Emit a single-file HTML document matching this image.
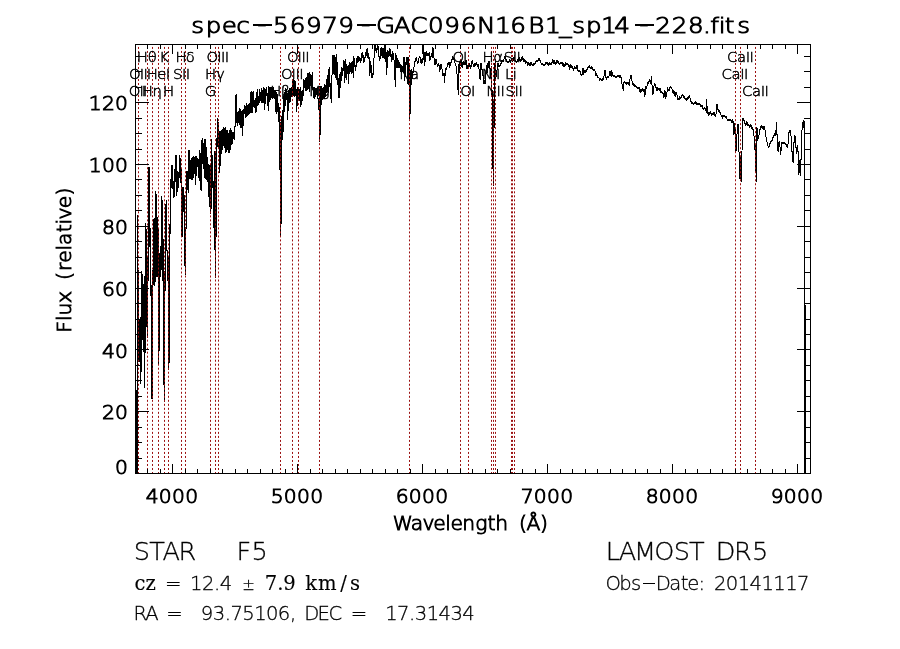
<!DOCTYPE html>
<html lang="en"><head><meta charset="utf-8"><title>spec-56979-GAC096N16B1_sp14-228.fits</title>
<style>html,body{margin:0;padding:0;background:#fff}svg{display:block}text{font-variant-ligatures:none;font-family:'DejaVu Sans Light','DejaVu Sans','Liberation Sans',sans-serif;fill:#000;stroke:#000;stroke-width:.3px}.s{font-family:'DejaVu Serif','Liberation Serif',serif;stroke-width:.12px}.pm{font-size:15px}.k{font-family:'DejaVu Sans Light','DejaVu Sans','Liberation Sans',sans-serif;stroke-width:1px}.m{stroke-width:.5px}</style></head><body>
<svg width="900" height="649" viewBox="0 0 900 649">
<rect width="900" height="649" fill="#fff"/>
<polyline fill="none" stroke="#000" stroke-width="1" stroke-linejoin="miter" shape-rendering="crispEdges" points="136.5,390.0 136.5,473.0 137.5,473.0 137.5,215.0 138.5,323.0 138.5,361.0 139.5,361.0 139.5,323.0 140.5,317.0 140.5,384.0 141.5,361.0 141.5,271.0 142.5,276.0 142.5,327.0 143.5,352.0 143.5,292.0 144.5,276.0 144.5,388.0 145.5,322.0 145.5,223.0 146.5,234.5 146.5,316.0 147.5,337.8 147.5,256.5 148.5,281.0 148.5,167.0 149.5,167.0 149.5,247.0 150.5,228.0 150.5,295.7 151.5,285.0 151.5,398.0 152.5,398.0 152.5,270.0 153.5,284.5 153.5,220.0 154.5,218.5 154.5,285.7 155.5,279.0 155.5,191.0 156.5,196.0 156.5,276.0 157.5,276.0 157.5,217.0 158.5,241.0 158.5,365.0 159.5,338.5 159.5,261.0 160.5,246.0 160.5,277.0 161.5,264.0 161.5,196.0 162.5,204.0 162.5,281.0 163.5,239.0 163.5,366.5 164.5,402.0 164.5,271.5 165.5,290.7 165.5,209.0 166.5,200.0 166.5,250.0 167.5,250.0 167.5,281.0 168.5,257.0 168.5,370.0 169.5,356.0 169.5,224.0 170.5,233.7 170.5,179.0 171.5,187.7 171.5,165.0 172.5,165.0 172.5,189.0 173.5,181.0 173.5,197.7 174.5,195.7 174.5,169.0 175.5,182.0 175.5,155.2 176.5,155.2 176.5,195.7 177.5,187.7 177.5,172.0 178.5,173.3 178.5,187.7 179.5,169.3 179.5,155.2 180.5,161.0 180.5,183.0 181.5,168.7 181.5,236.3 182.5,236.3 182.5,187.0 183.5,187.0 183.5,211.7 184.5,195.0 184.5,256.7 185.5,275.0 185.5,228.0 186.5,228.7 186.5,171.0 187.5,171.0 187.5,187.7 188.5,192.7 188.5,150.2 189.5,150.2 189.5,178.0 190.5,178.7 190.5,161.0 191.5,159.3 191.5,179.3 192.5,179.7 192.5,158.7 193.5,156.0 193.5,178.0 194.5,170.0 194.5,159.0 195.5,156.0 195.5,184.7 196.5,166.7 196.5,156.0 197.5,160.7 197.5,167.3 198.5,159.3 198.5,175.3 199.5,181.0 199.5,150.2 200.5,156.0 200.5,189.7 201.5,190.7 201.5,142.0 202.5,138.0 202.5,160.0 203.5,168.7 203.5,146.7 204.5,139.0 204.5,176.7 205.5,178.0 205.5,139.0 206.5,154.0 206.5,179.3 207.5,181.0 207.5,157.3 208.5,170.0 208.5,186.7 209.5,206.7 209.5,166.0 210.5,164.7 210.5,214.0 211.5,204.7 211.5,139.0 212.5,170.0 212.5,187.7 213.5,181.0 213.5,205.7 214.5,250.0 214.5,151.3 215.5,152.0 215.5,278.0 216.5,197.7 216.5,138.0 217.5,146.7 217.5,118.5 218.5,125.0 218.5,149.3 219.5,131.0 219.5,172.7 220.5,159.7 220.5,132.0 221.5,131.0 221.5,153.7 222.5,146.0 222.5,130.0 223.5,127.5 223.5,145.5 224.5,147.2 224.5,129.4 225.5,127.4 225.5,153.3 226.5,150.7 226.5,130.3 227.5,130.6 227.5,146.2 228.5,152.8 228.5,135.5 229.5,130.1 229.5,153.3 230.5,147.2 230.5,127.9 231.5,132.0 231.5,144.1 232.5,142.7 232.5,132.1 233.5,132.2 233.5,137.8 234.5,138.9 234.5,127.0 235.5,126.7 235.5,96.3 236.5,94.2 236.5,120.7 237.5,126.0 237.5,113.6 238.5,110.7 238.5,121.5 239.5,124.7 239.5,108.9 240.5,109.6 240.5,127.4 241.5,127.5 241.5,113.3 242.5,109.9 242.5,136.2 243.5,117.1 243.5,109.2 244.5,113.5 244.5,104.8 245.5,106.9 245.5,117.7 246.5,115.4 246.5,103.5 247.5,107.1 247.5,115.6 248.5,114.3 248.5,105.2 249.5,103.9 249.5,113.3 250.5,112.7 250.5,94.1 251.5,90.7 251.5,112.5 252.5,112.1 252.5,92.2 253.5,91.7 253.5,105.9 254.5,107.4 254.5,101.6 255.5,98.0 255.5,113.4 256.5,111.2 256.5,95.4 257.5,89.1 257.5,105.0 258.5,104.5 258.5,95.7 259.5,102.7 259.5,88.7 260.5,94.7 260.5,99.0 261.5,103.3 261.5,88.4 262.5,92.1 262.5,102.3 263.5,102.0 263.5,86.6 264.5,89.8 264.5,109.8 265.5,99.5 265.5,90.5 266.5,87.0 266.5,95.7 267.5,92.9 267.5,100.3 268.5,111.3 268.5,86.9 269.5,87.6 269.5,100.7 270.5,99.3 270.5,87.2 271.5,88.1 271.5,95.5 272.5,99.4 272.5,89.0 273.5,87.8 273.5,97.8 274.5,98.6 274.5,90.1 275.5,90.6 275.5,111.5 276.5,113.0 276.5,92.0 277.5,95.9 277.5,112.0 278.5,102.8 278.5,122.0 279.5,107.2 279.5,170.0 280.5,122.0 280.5,236.0 281.5,212.0 281.5,122.0 282.5,110.0 282.5,140.0 283.5,125.0 283.5,100.0 284.5,92.0 284.5,112.0 285.5,100.0 285.5,88.9 286.5,89.5 286.5,99.5 287.5,93.2 287.5,119.9 288.5,101.8 288.5,91.7 289.5,87.8 289.5,102.0 290.5,100.7 290.5,89.7 291.5,86.9 291.5,96.1 292.5,95.1 292.5,81.7 293.5,80.2 293.5,95.1 294.5,96.0 294.5,79.8 295.5,82.6 295.5,95.8 296.5,89.0 296.5,112.1 297.5,101.3 297.5,87.7 298.5,87.5 298.5,100.8 299.5,100.6 299.5,90.7 300.5,87.5 300.5,106.7 301.5,102.4 301.5,92.6 302.5,89.6 302.5,101.4 303.5,91.4 303.5,79.7 304.5,80.3 304.5,85.1 305.5,90.6 305.5,78.9 306.5,77.7 306.5,90.0 307.5,89.5 307.5,74.0 308.5,73.5 308.5,85.4 309.5,92.0 309.5,73.3 310.5,74.9 310.5,84.9 311.5,87.7 311.5,78.2 312.5,72.5 312.5,89.7 313.5,87.6 313.5,97.0 314.5,97.9 314.5,87.5 315.5,89.4 315.5,96.6 316.5,93.2 316.5,88.4 317.5,87.8 317.5,97.1 318.5,100.0 318.5,110.0 319.5,86.0 319.5,142.0 320.5,129.0 320.5,86.0 321.5,86.0 321.5,105.0 322.5,96.2 322.5,90.3 323.5,86.6 323.5,97.6 324.5,98.4 324.5,83.7 325.5,86.9 325.5,97.1 326.5,89.4 326.5,82.9 327.5,75.1 327.5,91.6 328.5,92.2 328.5,70.2 329.5,67.6 329.5,86.5 330.5,82.6 330.5,95.3 331.5,102.8 331.5,83.9 332.5,66.1 332.5,55.6 333.5,55.8 333.5,71.8 334.5,75.2 334.5,55.4 335.5,58.1 335.5,76.6 336.5,80.1 336.5,53.7 337.5,70.1 337.5,84.8 338.5,77.7 338.5,97.3 339.5,97.5 339.5,76.0 340.5,72.1 340.5,87.6 341.5,75.1 341.5,67.5 342.5,68.9 342.5,76.2 343.5,66.1 343.5,59.6 344.5,63.2 344.5,82.8 345.5,74.3 345.5,59.0 346.5,68.6 346.5,80.4 347.5,68.9 347.5,67.3 348.5,64.8 348.5,83.5 349.5,65.7 349.5,61.6 350.5,64.7 350.5,71.4 351.5,73.0 351.5,62.5 352.5,61.9 352.5,67.7 353.5,78.1 353.5,57.2 354.5,58.6 354.5,67.3 355.5,65.1 355.5,71.3 356.5,63.7 356.5,58.6 357.5,56.9 357.5,63.3 358.5,60.7 358.5,56.9 359.5,57.4 359.5,60.0 360.5,59.0 360.5,63.1 361.5,59.5 361.5,54.0 362.5,51.8 362.5,57.9 363.5,54.6 363.5,62.6 364.5,61.8 364.5,57.9 365.5,57.6 365.5,53.2 366.5,54.8 366.5,49.3 367.5,48.8 367.5,57.4 368.5,58.2 368.5,52.8 369.5,61.0 369.5,75.6 370.5,70.3 370.5,61.5 371.5,69.1 371.5,77.6 372.5,77.6 372.5,72.7 373.5,74.7 373.5,64.6 374.5,51.8 374.5,45.5 375.5,45.5 375.5,50.6 376.5,52.0 376.5,48.7 377.5,49.4 377.5,45.5 378.5,46.3 378.5,56.0 379.5,56.4 379.5,61.3 380.5,57.1 380.5,49.0 381.5,47.0 381.5,54.7 382.5,57.8 382.5,48.1 383.5,48.1 383.5,56.7 384.5,59.0 384.5,45.5 385.5,49.3 385.5,62.2 386.5,52.0 386.5,75.0 387.5,61.8 387.5,50.8 388.5,52.3 388.5,57.4 389.5,54.1 389.5,47.6 390.5,51.2 390.5,56.8 391.5,54.2 391.5,62.3 392.5,56.9 392.5,52.0 393.5,53.8 393.5,57.8 394.5,61.8 394.5,72.6 395.5,87.4 395.5,54.2 396.5,55.7 396.5,67.4 397.5,67.4 397.5,57.7 398.5,63.1 398.5,67.6 399.5,67.0 399.5,62.5 400.5,66.5 400.5,71.6 401.5,72.5 401.5,64.8 402.5,67.1 402.5,71.2 403.5,72.4 403.5,57.5 404.5,57.5 404.5,80.7 405.5,72.8 405.5,62.6 406.5,64.1 406.5,57.3 407.5,57.2 407.5,82.0 408.5,85.0 408.5,57.1 409.5,71.0 409.5,119.0 410.5,109.0 410.5,71.0 411.5,70.0 411.5,85.0 412.5,73.8 412.5,71.4 413.5,72.0 413.5,68.1 414.5,66.4 414.5,62.0 415.5,60.8 415.5,58.3 416.5,57.5 416.5,60.4 417.5,62.1 417.5,63.1 418.5,62.6 418.5,58.4 419.5,57.9 419.5,56.3 420.5,58.5 420.5,62.2 421.5,62.9 421.5,59.1 422.5,58.8 422.5,63.4 423.5,56.6 423.5,45.5 424.5,57.9 424.5,66.4 425.5,57.9 425.5,52.7 426.5,51.9 426.5,55.1 427.5,55.6 427.5,53.2 428.5,53.3 428.5,55.3 429.5,53.5 429.5,60.7 430.5,58.6 430.5,56.3 431.5,56.6 431.5,52.7 432.5,57.7 432.5,47.0 433.5,49.7 433.5,54.2 434.5,61.1 434.5,64.9 435.5,65.0 435.5,59.5 436.5,59.2 436.5,61.8 437.5,65.4 437.5,66.4 438.5,65.4 438.5,63.4 439.5,67.5 439.5,71.9 440.5,68.3 440.5,64.2 441.5,64.4 441.5,67.6 442.5,70.0 442.5,75.6 443.5,75.7 443.5,73.9 444.5,73.5 444.5,82.8 445.5,70.2 445.5,69.0 446.5,68.1 446.5,70.1 447.5,64.8 447.5,63.8 448.5,64.3 448.5,62.8 449.5,62.9 449.5,66.8 450.5,65.7 450.5,62.3 451.5,62.1 451.5,60.1 452.5,59.3 452.5,56.8 453.5,57.9 453.5,59.0 454.5,58.4 454.5,62.5 455.5,63.2 455.5,64.6 456.5,67.1 456.5,68.1 457.5,78.8 457.5,84.4 458.5,95.2 458.5,66.5 459.5,61.8 459.5,72.7 460.5,60.4 460.5,59.4 461.5,60.8 461.5,66.3 462.5,67.3 462.5,63.3 463.5,62.0 463.5,64.7 464.5,64.7 464.5,63.0 465.5,64.3 465.5,60.4 466.5,60.6 466.5,68.4 467.5,68.6 467.5,65.4 468.5,66.0 468.5,63.1 469.5,63.3 469.5,66.5 470.5,66.0 470.5,68.8 471.5,65.6 471.5,61.8 472.5,61.1 472.5,63.8 473.5,64.7 473.5,66.6 474.5,66.1 474.5,63.7 475.5,63.9 475.5,65.3 476.5,64.7 476.5,62.5 477.5,65.1 477.5,66.6 478.5,67.9 478.5,64.4 479.5,73.4 479.5,78.1 480.5,78.9 480.5,63.3 481.5,63.3 481.5,69.5 482.5,69.8 482.5,72.6 483.5,78.2 483.5,83.2 484.5,83.5 484.5,80.1 485.5,84.3 485.5,72.5 486.5,73.1 486.5,67.7 487.5,62.9 487.5,72.6 488.5,63.6 488.5,61.5 489.5,61.3 489.5,67.6 490.5,69.1 490.5,78.0 491.5,66.0 491.5,96.0 492.5,90.0 492.5,150.0 493.5,186.0 493.5,100.0 494.5,128.0 494.5,66.0 495.5,60.0 495.5,80.0 497.5,66.8 497.5,64.0 498.5,63.4 498.5,66.7 499.5,66.3 499.5,65.1 500.5,65.3 500.5,64.0 501.5,62.7 501.5,60.5 502.5,60.7 502.5,61.7 503.5,60.9 503.5,59.8 504.5,58.2 504.5,56.7 505.5,56.9 505.5,59.3 506.5,59.2 506.5,61.3 507.5,61.4 507.5,62.4 508.5,62.3 508.5,61.3 509.5,61.6 509.5,60.0 510.5,60.6 510.5,61.7 511.5,60.2 511.5,58.3 512.5,58.2 512.5,61.4 513.5,60.9 513.5,58.1 514.5,57.2 514.5,60.0 515.5,60.4 515.5,61.9 516.5,62.3 516.5,61.3 517.5,61.0 517.5,59.7 518.5,58.7 518.5,60.8 519.5,60.1 519.5,57.8 520.5,59.5 520.5,61.7 521.5,60.4 521.5,57.8 522.5,57.1 522.5,59.2 523.5,59.0 523.5,61.5 524.5,61.7 524.5,60.1 525.5,60.8 525.5,63.3 526.5,62.7 526.5,61.6 527.5,62.9 527.5,65.4 528.5,64.7 528.5,61.8 529.5,64.5 529.5,65.8 530.5,65.9 530.5,63.0 531.5,62.7 531.5,64.9 532.5,64.4 532.5,65.5 533.5,65.5 533.5,64.0 534.5,63.5 534.5,65.0 535.5,63.1 535.5,61.4 536.5,61.9 536.5,60.9 537.5,60.5 537.5,61.9 538.5,59.4 538.5,58.4 539.5,59.1 539.5,60.2 540.5,60.3 540.5,62.2 541.5,63.8 541.5,64.9 542.5,64.7 542.5,63.7 543.5,64.4 543.5,65.4 544.5,65.5 544.5,64.5 545.5,64.7 545.5,62.8 546.5,62.7 546.5,63.7 547.5,62.8 547.5,64.7 548.5,65.4 548.5,63.9 549.5,64.4 549.5,63.0 550.5,63.2 550.5,64.9 551.5,64.6 551.5,63.4 552.5,61.6 552.5,59.4 553.5,61.5 553.5,63.3 554.5,63.0 554.5,61.4 555.5,63.0 555.5,64.0 556.5,62.8 556.5,61.1 557.5,61.9 557.5,60.0 558.5,62.5 558.5,63.7 559.5,63.6 559.5,64.6 560.5,63.5 560.5,62.1 561.5,62.2 561.5,63.2 562.5,62.6 562.5,64.8 563.5,66.1 563.5,63.4 564.5,64.5 564.5,67.0 565.5,64.5 565.5,62.8 566.5,63.7 566.5,64.9 567.5,64.6 567.5,63.1 568.5,65.7 568.5,67.0 569.5,64.9 569.5,69.9 570.5,66.2 570.5,64.9 571.5,66.1 571.5,67.5 572.5,66.7 572.5,68.5 573.5,68.3 573.5,69.7 574.5,68.3 574.5,66.7 575.5,67.6 575.5,68.8 576.5,68.1 576.5,65.5 577.5,65.6 577.5,70.7 578.5,70.5 578.5,71.8 579.5,71.7 579.5,69.7 580.5,72.5 580.5,74.8 581.5,75.0 581.5,76.0 582.5,73.1 582.5,68.9 583.5,68.7 583.5,74.1 584.5,72.5 584.5,70.7 585.5,70.9 585.5,72.1 586.5,71.3 586.5,70.3 587.5,68.8 587.5,67.3 588.5,67.4 588.5,66.4 589.5,66.0 589.5,67.0 590.5,67.6 590.5,68.7 591.5,68.7 591.5,67.0 592.5,67.3 592.5,69.4 593.5,69.5 593.5,70.5 594.5,70.1 594.5,69.1 595.5,72.7 595.5,75.0 596.5,75.2 596.5,73.0 597.5,76.9 597.5,77.9 598.5,77.8 598.5,76.8 599.5,79.2 599.5,80.2 600.5,79.9 600.5,78.9 601.5,79.8 601.5,80.8 602.5,80.0 602.5,79.0 603.5,78.9 603.5,79.9 604.5,72.0 604.5,70.3 605.5,70.3 605.5,76.7 606.5,78.0 606.5,79.0 607.5,77.6 607.5,76.4 608.5,77.0 608.5,78.0 609.5,74.2 609.5,71.9 610.5,71.3 610.5,74.5 611.5,77.3 611.5,70.3 612.5,74.2 612.5,75.2 613.5,75.9 613.5,76.9 614.5,76.8 614.5,75.8 615.5,76.1 615.5,77.6 616.5,77.4 616.5,76.1 617.5,76.5 617.5,75.4 618.5,75.6 618.5,76.6 619.5,77.1 619.5,75.9 620.5,75.8 620.5,77.0 621.5,77.9 621.5,82.8 622.5,84.9 622.5,87.3 623.5,91.3 623.5,82.3 624.5,82.8 624.5,81.8 625.5,82.3 625.5,83.7 626.5,84.5 626.5,82.9 627.5,83.2 627.5,82.1 628.5,82.3 628.5,84.2 629.5,85.0 629.5,81.2 630.5,77.4 630.5,75.6 631.5,75.5 631.5,78.4 632.5,83.5 632.5,84.6 633.5,83.6 633.5,85.6 634.5,86.0 634.5,84.5 635.5,85.3 635.5,86.6 636.5,86.5 636.5,88.0 637.5,88.1 637.5,87.1 638.5,87.3 638.5,88.3 639.5,87.6 639.5,91.5 640.5,92.1 640.5,89.4 641.5,89.5 641.5,91.2 642.5,90.2 642.5,88.4 643.5,89.8 643.5,91.8 644.5,89.5 644.5,97.2 645.5,93.1 645.5,86.6 646.5,87.6 646.5,89.3 647.5,83.2 647.5,82.2 648.5,81.6 648.5,83.1 649.5,81.3 649.5,79.5 650.5,81.4 650.5,83.4 651.5,83.5 651.5,76.1 652.5,93.4 652.5,94.4 653.5,93.7 653.5,87.4 654.5,84.9 654.5,83.3 655.5,84.2 655.5,86.5 656.5,88.5 656.5,90.4 657.5,90.3 657.5,87.7 658.5,88.1 658.5,89.7 659.5,90.6 659.5,88.6 660.5,88.2 660.5,92.0 661.5,91.7 661.5,92.7 662.5,93.1 662.5,92.1 663.5,94.6 663.5,98.3 664.5,95.0 664.5,90.0 665.5,92.2 665.5,99.1 666.5,95.8 666.5,93.5 667.5,90.1 667.5,88.3 668.5,89.6 668.5,90.6 669.5,90.5 669.5,87.9 670.5,87.9 670.5,86.9 671.5,87.1 671.5,88.1 672.5,90.1 672.5,92.1 673.5,93.0 673.5,91.0 674.5,92.3 674.5,95.1 675.5,95.9 675.5,92.4 676.5,92.7 676.5,93.9 677.5,96.2 677.5,99.0 678.5,98.7 678.5,99.7 679.5,99.4 679.5,96.8 680.5,97.1 680.5,98.1 681.5,97.7 681.5,95.4 682.5,95.7 682.5,94.7 683.5,95.1 683.5,97.8 684.5,97.1 684.5,98.7 685.5,98.4 685.5,99.4 686.5,100.3 686.5,98.4 687.5,97.9 687.5,99.4 688.5,98.1 688.5,96.3 689.5,96.3 689.5,95.3 690.5,100.3 690.5,101.4 691.5,101.9 691.5,103.0 692.5,102.6 692.5,103.6 693.5,104.1 693.5,103.1 694.5,103.6 694.5,102.2 695.5,101.7 695.5,103.3 696.5,102.9 696.5,104.0 697.5,103.6 697.5,104.6 698.5,104.1 698.5,103.1 699.5,103.2 699.5,104.4 700.5,105.1 700.5,106.1 701.5,106.4 701.5,105.4 702.5,105.6 702.5,108.2 703.5,108.3 703.5,109.3 704.5,108.6 704.5,107.5 705.5,108.2 705.5,110.0 706.5,111.6 706.5,99.3 707.5,112.7 707.5,113.7 708.5,113.0 708.5,115.4 709.5,113.7 709.5,112.1 710.5,111.7 710.5,113.9 711.5,114.0 711.5,115.0 712.5,114.5 712.5,113.4 713.5,114.1 713.5,112.3 714.5,112.7 714.5,115.1 715.5,115.6 715.5,116.6 716.5,111.7 716.5,104.5 717.5,104.3 717.5,109.2 718.5,109.1 718.5,111.7 719.5,112.7 719.5,110.4 720.5,113.8 720.5,114.8 721.5,115.1 721.5,116.3 722.5,115.7 722.5,117.7 723.5,116.2 723.5,115.1 724.5,115.6 724.5,116.6 725.5,116.1 725.5,117.1 726.5,117.0 726.5,118.4 727.5,119.2 727.5,120.2 728.5,120.5 728.5,119.5 729.5,119.6 729.5,120.9 730.5,120.9 730.5,119.8 731.5,121.4 731.5,122.4 732.5,122.0 732.5,119.1 733.5,122.8 733.5,134.5 734.5,133.1 734.5,123.3 735.5,131.8 735.5,151.4 736.5,150.4 736.5,143.0 737.5,125.9 737.5,124.9 738.5,124.6 738.5,125.8 739.5,176.7 739.5,178.8 740.5,178.5 740.5,157.0 741.5,157.2 741.5,181.8 742.5,121.0 742.5,118.8 743.5,119.0 743.5,120.2 744.5,120.2 744.5,123.5 745.5,123.7 745.5,125.4 746.5,123.4 746.5,122.0 747.5,123.3 747.5,125.4 748.5,125.5 748.5,124.5 749.5,126.0 749.5,127.0 750.5,126.4 750.5,124.5 751.5,125.7 751.5,128.1 752.5,127.9 752.5,129.0 753.5,129.0 753.5,131.5 754.5,139.7 754.5,150.0 755.5,144.4 755.5,164.1 756.5,181.8 756.5,127.3 757.5,129.4 757.5,140.5 758.5,137.0 758.5,135.8 759.5,133.5 759.5,131.0 760.5,128.1 760.5,127.1 761.5,127.8 761.5,125.7 762.5,126.8 762.5,127.8 763.5,129.1 763.5,126.3 764.5,126.2 764.5,127.2 765.5,133.5 765.5,135.4 766.5,138.4 766.5,140.6 767.5,143.6 767.5,144.6 768.5,147.3 768.5,148.3 769.5,146.3 769.5,143.6 770.5,143.0 770.5,141.3 771.5,140.9 771.5,141.9 772.5,139.4 772.5,138.4 773.5,136.7 773.5,135.4 774.5,135.1 774.5,134.0 775.5,135.1 775.5,129.8 776.5,135.1 776.5,122.3 777.5,145.8 777.5,150.7 778.5,151.2 778.5,142.9 779.5,142.0 779.5,145.9 780.5,147.7 780.5,155.3 781.5,146.3 781.5,142.3 782.5,142.5 782.5,143.5 783.5,143.7 783.5,142.7 784.5,142.9 784.5,143.9 785.5,144.4 785.5,143.1 786.5,145.3 786.5,146.9 787.5,146.5 787.5,148.1 788.5,139.7 788.5,132.6 789.5,131.9 789.5,130.9 790.5,130.4 790.5,133.3 791.5,138.2 791.5,150.5 792.5,152.3 792.5,161.4 793.5,162.3 793.5,143.3 794.5,141.6 794.5,136.0 795.5,136.2 795.5,145.3 796.5,149.6 796.5,153.7 797.5,150.2 797.5,145.3 798.5,155.8 798.5,174.8 799.5,171.0 799.5,161.4 800.5,159.7 800.5,176.3 801.5,144.1 801.5,132.4 802.5,128.1 802.5,122.7 803.5,121.1 803.5,128.0 804.5,121.0 804.5,473.0 805.5,473.0 805.5,305.0"/>
<g stroke="#9c1010" stroke-width="1" stroke-dasharray="2 2.01" fill="none">
<line x1="138.5" y1="474.0" x2="138.5" y2="45.0"/>
<line x1="147.5" y1="474.0" x2="147.5" y2="45.0"/>
<line x1="152.5" y1="474.0" x2="152.5" y2="45.0"/>
<line x1="158.5" y1="474.0" x2="158.5" y2="45.0"/>
<line x1="164.5" y1="474.0" x2="164.5" y2="45.0"/>
<line x1="168.5" y1="474.0" x2="168.5" y2="45.0"/>
<line x1="181.5" y1="474.0" x2="181.5" y2="45.0"/>
<line x1="185.5" y1="474.0" x2="185.5" y2="45.0"/>
<line x1="210.5" y1="474.0" x2="210.5" y2="45.0"/>
<line x1="215.5" y1="474.0" x2="215.5" y2="45.0"/>
<line x1="218.5" y1="474.0" x2="218.5" y2="45.0"/>
<line x1="280.5" y1="474.0" x2="280.5" y2="45.0"/>
<line x1="292.5" y1="474.0" x2="292.5" y2="45.0"/>
<line x1="298.5" y1="474.0" x2="298.5" y2="45.0"/>
<line x1="319.5" y1="474.0" x2="319.5" y2="45.0"/>
<line x1="409.5" y1="474.0" x2="409.5" y2="45.0"/>
<line x1="460.5" y1="474.0" x2="460.5" y2="45.0"/>
<line x1="468.5" y1="474.0" x2="468.5" y2="45.0"/>
<line x1="491.5" y1="474.0" x2="491.5" y2="45.0"/>
<line x1="493.5" y1="474.0" x2="493.5" y2="45.0"/>
<line x1="495.5" y1="474.0" x2="495.5" y2="45.0"/>
<line x1="511.5" y1="474.0" x2="511.5" y2="45.0"/>
<line x1="512.5" y1="474.0" x2="512.5" y2="45.0"/>
<line x1="514.5" y1="474.0" x2="514.5" y2="45.0"/>
<line x1="735.5" y1="474.0" x2="735.5" y2="45.0"/>
<line x1="740.5" y1="474.0" x2="740.5" y2="45.0"/>
<line x1="755.5" y1="474.0" x2="755.5" y2="45.0"/>
</g>
<g stroke="#000" stroke-width="1" fill="none" shape-rendering="crispEdges">
<rect x="135.5" y="44.5" width="675.0" height="429.0"/>
<line x1="147.5" y1="473.5" x2="147.5" y2="469.0"/>
<line x1="147.5" y1="44.5" x2="147.5" y2="49.0"/>
<line x1="160.5" y1="473.5" x2="160.5" y2="469.0"/>
<line x1="160.5" y1="44.5" x2="160.5" y2="49.0"/>
<line x1="172.5" y1="473.5" x2="172.5" y2="463.9"/>
<line x1="172.5" y1="44.5" x2="172.5" y2="54.1"/>
<line x1="185.5" y1="473.5" x2="185.5" y2="469.0"/>
<line x1="185.5" y1="44.5" x2="185.5" y2="49.0"/>
<line x1="197.5" y1="473.5" x2="197.5" y2="469.0"/>
<line x1="197.5" y1="44.5" x2="197.5" y2="49.0"/>
<line x1="210.5" y1="473.5" x2="210.5" y2="469.0"/>
<line x1="210.5" y1="44.5" x2="210.5" y2="49.0"/>
<line x1="222.5" y1="473.5" x2="222.5" y2="469.0"/>
<line x1="222.5" y1="44.5" x2="222.5" y2="49.0"/>
<line x1="235.5" y1="473.5" x2="235.5" y2="469.0"/>
<line x1="235.5" y1="44.5" x2="235.5" y2="49.0"/>
<line x1="247.5" y1="473.5" x2="247.5" y2="469.0"/>
<line x1="247.5" y1="44.5" x2="247.5" y2="49.0"/>
<line x1="260.5" y1="473.5" x2="260.5" y2="469.0"/>
<line x1="260.5" y1="44.5" x2="260.5" y2="49.0"/>
<line x1="272.5" y1="473.5" x2="272.5" y2="469.0"/>
<line x1="272.5" y1="44.5" x2="272.5" y2="49.0"/>
<line x1="285.5" y1="473.5" x2="285.5" y2="469.0"/>
<line x1="285.5" y1="44.5" x2="285.5" y2="49.0"/>
<line x1="297.5" y1="473.5" x2="297.5" y2="463.9"/>
<line x1="297.5" y1="44.5" x2="297.5" y2="54.1"/>
<line x1="310.5" y1="473.5" x2="310.5" y2="469.0"/>
<line x1="310.5" y1="44.5" x2="310.5" y2="49.0"/>
<line x1="322.5" y1="473.5" x2="322.5" y2="469.0"/>
<line x1="322.5" y1="44.5" x2="322.5" y2="49.0"/>
<line x1="335.5" y1="473.5" x2="335.5" y2="469.0"/>
<line x1="335.5" y1="44.5" x2="335.5" y2="49.0"/>
<line x1="347.5" y1="473.5" x2="347.5" y2="469.0"/>
<line x1="347.5" y1="44.5" x2="347.5" y2="49.0"/>
<line x1="360.5" y1="473.5" x2="360.5" y2="469.0"/>
<line x1="360.5" y1="44.5" x2="360.5" y2="49.0"/>
<line x1="372.5" y1="473.5" x2="372.5" y2="469.0"/>
<line x1="372.5" y1="44.5" x2="372.5" y2="49.0"/>
<line x1="385.5" y1="473.5" x2="385.5" y2="469.0"/>
<line x1="385.5" y1="44.5" x2="385.5" y2="49.0"/>
<line x1="397.5" y1="473.5" x2="397.5" y2="469.0"/>
<line x1="397.5" y1="44.5" x2="397.5" y2="49.0"/>
<line x1="410.5" y1="473.5" x2="410.5" y2="469.0"/>
<line x1="410.5" y1="44.5" x2="410.5" y2="49.0"/>
<line x1="422.5" y1="473.5" x2="422.5" y2="463.9"/>
<line x1="422.5" y1="44.5" x2="422.5" y2="54.1"/>
<line x1="435.5" y1="473.5" x2="435.5" y2="469.0"/>
<line x1="435.5" y1="44.5" x2="435.5" y2="49.0"/>
<line x1="447.5" y1="473.5" x2="447.5" y2="469.0"/>
<line x1="447.5" y1="44.5" x2="447.5" y2="49.0"/>
<line x1="460.5" y1="473.5" x2="460.5" y2="469.0"/>
<line x1="460.5" y1="44.5" x2="460.5" y2="49.0"/>
<line x1="472.5" y1="473.5" x2="472.5" y2="469.0"/>
<line x1="472.5" y1="44.5" x2="472.5" y2="49.0"/>
<line x1="485.5" y1="473.5" x2="485.5" y2="469.0"/>
<line x1="485.5" y1="44.5" x2="485.5" y2="49.0"/>
<line x1="497.5" y1="473.5" x2="497.5" y2="469.0"/>
<line x1="497.5" y1="44.5" x2="497.5" y2="49.0"/>
<line x1="510.5" y1="473.5" x2="510.5" y2="469.0"/>
<line x1="510.5" y1="44.5" x2="510.5" y2="49.0"/>
<line x1="522.5" y1="473.5" x2="522.5" y2="469.0"/>
<line x1="522.5" y1="44.5" x2="522.5" y2="49.0"/>
<line x1="535.5" y1="473.5" x2="535.5" y2="469.0"/>
<line x1="535.5" y1="44.5" x2="535.5" y2="49.0"/>
<line x1="547.5" y1="473.5" x2="547.5" y2="463.9"/>
<line x1="547.5" y1="44.5" x2="547.5" y2="54.1"/>
<line x1="560.5" y1="473.5" x2="560.5" y2="469.0"/>
<line x1="560.5" y1="44.5" x2="560.5" y2="49.0"/>
<line x1="572.5" y1="473.5" x2="572.5" y2="469.0"/>
<line x1="572.5" y1="44.5" x2="572.5" y2="49.0"/>
<line x1="585.5" y1="473.5" x2="585.5" y2="469.0"/>
<line x1="585.5" y1="44.5" x2="585.5" y2="49.0"/>
<line x1="597.5" y1="473.5" x2="597.5" y2="469.0"/>
<line x1="597.5" y1="44.5" x2="597.5" y2="49.0"/>
<line x1="610.5" y1="473.5" x2="610.5" y2="469.0"/>
<line x1="610.5" y1="44.5" x2="610.5" y2="49.0"/>
<line x1="622.5" y1="473.5" x2="622.5" y2="469.0"/>
<line x1="622.5" y1="44.5" x2="622.5" y2="49.0"/>
<line x1="635.5" y1="473.5" x2="635.5" y2="469.0"/>
<line x1="635.5" y1="44.5" x2="635.5" y2="49.0"/>
<line x1="647.5" y1="473.5" x2="647.5" y2="469.0"/>
<line x1="647.5" y1="44.5" x2="647.5" y2="49.0"/>
<line x1="660.5" y1="473.5" x2="660.5" y2="469.0"/>
<line x1="660.5" y1="44.5" x2="660.5" y2="49.0"/>
<line x1="672.5" y1="473.5" x2="672.5" y2="463.9"/>
<line x1="672.5" y1="44.5" x2="672.5" y2="54.1"/>
<line x1="685.5" y1="473.5" x2="685.5" y2="469.0"/>
<line x1="685.5" y1="44.5" x2="685.5" y2="49.0"/>
<line x1="697.5" y1="473.5" x2="697.5" y2="469.0"/>
<line x1="697.5" y1="44.5" x2="697.5" y2="49.0"/>
<line x1="710.5" y1="473.5" x2="710.5" y2="469.0"/>
<line x1="710.5" y1="44.5" x2="710.5" y2="49.0"/>
<line x1="722.5" y1="473.5" x2="722.5" y2="469.0"/>
<line x1="722.5" y1="44.5" x2="722.5" y2="49.0"/>
<line x1="735.5" y1="473.5" x2="735.5" y2="469.0"/>
<line x1="735.5" y1="44.5" x2="735.5" y2="49.0"/>
<line x1="747.5" y1="473.5" x2="747.5" y2="469.0"/>
<line x1="747.5" y1="44.5" x2="747.5" y2="49.0"/>
<line x1="760.5" y1="473.5" x2="760.5" y2="469.0"/>
<line x1="760.5" y1="44.5" x2="760.5" y2="49.0"/>
<line x1="772.5" y1="473.5" x2="772.5" y2="469.0"/>
<line x1="772.5" y1="44.5" x2="772.5" y2="49.0"/>
<line x1="785.5" y1="473.5" x2="785.5" y2="469.0"/>
<line x1="785.5" y1="44.5" x2="785.5" y2="49.0"/>
<line x1="797.5" y1="473.5" x2="797.5" y2="463.9"/>
<line x1="797.5" y1="44.5" x2="797.5" y2="54.1"/>
<line x1="810.5" y1="473.5" x2="810.5" y2="469.0"/>
<line x1="810.5" y1="44.5" x2="810.5" y2="49.0"/>
<line x1="135.5" y1="458.5" x2="142.0" y2="458.5"/>
<line x1="810.5" y1="458.5" x2="804.0" y2="458.5"/>
<line x1="135.5" y1="442.5" x2="142.0" y2="442.5"/>
<line x1="810.5" y1="442.5" x2="804.0" y2="442.5"/>
<line x1="135.5" y1="427.5" x2="142.0" y2="427.5"/>
<line x1="810.5" y1="427.5" x2="804.0" y2="427.5"/>
<line x1="135.5" y1="411.5" x2="149.0" y2="411.5"/>
<line x1="810.5" y1="411.5" x2="797.0" y2="411.5"/>
<line x1="135.5" y1="396.5" x2="142.0" y2="396.5"/>
<line x1="810.5" y1="396.5" x2="804.0" y2="396.5"/>
<line x1="135.5" y1="380.5" x2="142.0" y2="380.5"/>
<line x1="810.5" y1="380.5" x2="804.0" y2="380.5"/>
<line x1="135.5" y1="365.5" x2="142.0" y2="365.5"/>
<line x1="810.5" y1="365.5" x2="804.0" y2="365.5"/>
<line x1="135.5" y1="349.5" x2="149.0" y2="349.5"/>
<line x1="810.5" y1="349.5" x2="797.0" y2="349.5"/>
<line x1="135.5" y1="334.5" x2="142.0" y2="334.5"/>
<line x1="810.5" y1="334.5" x2="804.0" y2="334.5"/>
<line x1="135.5" y1="319.5" x2="142.0" y2="319.5"/>
<line x1="810.5" y1="319.5" x2="804.0" y2="319.5"/>
<line x1="135.5" y1="303.5" x2="142.0" y2="303.5"/>
<line x1="810.5" y1="303.5" x2="804.0" y2="303.5"/>
<line x1="135.5" y1="288.5" x2="149.0" y2="288.5"/>
<line x1="810.5" y1="288.5" x2="797.0" y2="288.5"/>
<line x1="135.5" y1="272.5" x2="142.0" y2="272.5"/>
<line x1="810.5" y1="272.5" x2="804.0" y2="272.5"/>
<line x1="135.5" y1="257.5" x2="142.0" y2="257.5"/>
<line x1="810.5" y1="257.5" x2="804.0" y2="257.5"/>
<line x1="135.5" y1="241.5" x2="142.0" y2="241.5"/>
<line x1="810.5" y1="241.5" x2="804.0" y2="241.5"/>
<line x1="135.5" y1="226.5" x2="149.0" y2="226.5"/>
<line x1="810.5" y1="226.5" x2="797.0" y2="226.5"/>
<line x1="135.5" y1="210.5" x2="142.0" y2="210.5"/>
<line x1="810.5" y1="210.5" x2="804.0" y2="210.5"/>
<line x1="135.5" y1="195.5" x2="142.0" y2="195.5"/>
<line x1="810.5" y1="195.5" x2="804.0" y2="195.5"/>
<line x1="135.5" y1="179.5" x2="142.0" y2="179.5"/>
<line x1="810.5" y1="179.5" x2="804.0" y2="179.5"/>
<line x1="135.5" y1="164.5" x2="149.0" y2="164.5"/>
<line x1="810.5" y1="164.5" x2="797.0" y2="164.5"/>
<line x1="135.5" y1="149.5" x2="142.0" y2="149.5"/>
<line x1="810.5" y1="149.5" x2="804.0" y2="149.5"/>
<line x1="135.5" y1="133.5" x2="142.0" y2="133.5"/>
<line x1="810.5" y1="133.5" x2="804.0" y2="133.5"/>
<line x1="135.5" y1="118.5" x2="142.0" y2="118.5"/>
<line x1="810.5" y1="118.5" x2="804.0" y2="118.5"/>
<line x1="135.5" y1="102.5" x2="149.0" y2="102.5"/>
<line x1="810.5" y1="102.5" x2="797.0" y2="102.5"/>
<line x1="135.5" y1="87.5" x2="142.0" y2="87.5"/>
<line x1="810.5" y1="87.5" x2="804.0" y2="87.5"/>
<line x1="135.5" y1="71.5" x2="142.0" y2="71.5"/>
<line x1="810.5" y1="71.5" x2="804.0" y2="71.5"/>
<line x1="135.5" y1="56.5" x2="142.0" y2="56.5"/>
<line x1="810.5" y1="56.5" x2="804.0" y2="56.5"/>
</g>
<text x="172.0 185.7 199.4 211.4 227.8 244.3 258.8 273.0 287.1 301.0 318.1 335.2 349.7 364.3 379.0 393.2 407.5 422.7 437.4 450.6 466.3 481.0 491.7 503.2 516.3 529.6 540.9 560.0 576.7 591.0 605.0 614.8 621.4 628.0 634.5 646.7" y="32.6" font-size="21.4" text-anchor="middle" xml:space="preserve" class="k" transform="scale(1.150,1)" dy="0.0 0.0 0.0 0.0 -1.6 1.6 0.0 0.0 0.0 0.0 -1.6 1.6 0.0 0.0 0.0 0.0 0.0 0.0 0.0 0.0 0.0 0.0 0.0 0.0 0.0 0.0 0.0 -1.6 1.6 0.0 0.0 0.0 0.0 0.0 0.0 0.0">spec-56979-GAC096N16B1_sp14-228.fits</text>
<text x="152.2 165.3 178.5 191.6" y="503.4" font-size="20.3" text-anchor="middle" xml:space="preserve" class="k">4000</text>
<text x="277.2 290.3 303.5 316.6" y="503.4" font-size="20.3" text-anchor="middle" xml:space="preserve" class="k">5000</text>
<text x="402.2 415.3 428.5 441.6" y="503.4" font-size="20.3" text-anchor="middle" xml:space="preserve" class="k">6000</text>
<text x="527.2 540.3 553.5 566.6" y="503.4" font-size="20.3" text-anchor="middle" xml:space="preserve" class="k">7000</text>
<text x="652.2 665.3 678.5 691.6" y="503.4" font-size="20.3" text-anchor="middle" xml:space="preserve" class="k">8000</text>
<text x="777.2 790.3 803.5 816.6" y="503.4" font-size="20.3" text-anchor="middle" xml:space="preserve" class="k">9000</text>
<text x="121.5" y="473.6" font-size="20.3" text-anchor="middle" xml:space="preserve" class="k">0</text>
<text x="108.4 121.5" y="419.3" font-size="20.3" text-anchor="middle" xml:space="preserve" class="k">20</text>
<text x="108.4 121.5" y="357.5" font-size="20.3" text-anchor="middle" xml:space="preserve" class="k">40</text>
<text x="108.4 121.5" y="295.7" font-size="20.3" text-anchor="middle" xml:space="preserve" class="k">60</text>
<text x="108.4 121.5" y="233.9" font-size="20.3" text-anchor="middle" xml:space="preserve" class="k">80</text>
<text x="95.3 108.4 121.5" y="172.1" font-size="20.3" text-anchor="middle" xml:space="preserve" class="k">100</text>
<text x="95.3 108.4 121.5" y="110.3" font-size="20.3" text-anchor="middle" xml:space="preserve" class="k">120</text>
<text x="402.9 417.0 428.5 439.6 448.1 456.7 468.8 481.3 491.4 501.6 513.1 522.9 533.4 543.9" y="529.5" font-size="20.3" text-anchor="middle" xml:space="preserve" class="k">Wavelength (Å)</text>
<text transform="translate(70.8,331.0) rotate(-90)" x="4.2 12.9 21.9 34.0 45.1 55.1 64.2 74.6 83.3 92.3 102.7 109.4 117.5 128.9 139.6" y="0" font-size="20.3" text-anchor="middle" xml:space="preserve" class="k">Flux (relative)</text>
<text x="141.9 157.0 171.2 187.4 202.9 216.2 229.6 243.8 259.7" y="559.9" font-size="25.6" text-anchor="middle" xml:space="preserve">STAR   F5</text>
<text x="613.0 627.6 645.1 664.3 681.8 696.8 710.1 725.5 743.0 760.1" y="559.9" font-size="25.6" text-anchor="middle" xml:space="preserve">LAMOST DR5</text>
<text x="613.3 625.4 636.1 649.2 663.4 675.3 684.5 693.4 701.8 709.5 720.2 732.1 743.9 755.8 767.7 779.6 791.5 803.3" y="589.9" font-size="19.6" text-anchor="middle" xml:space="preserve" dy="0.0 0.0 0.0 -1.4 1.4 0.0 0.0 0.0 0.0 0.0 0.0 0.0 0.0 0.0 0.0 0.0 0.0 0.0">Obs-Date: 20141117</text>
<text x="140.0 150.6 160.7 173.2 185.6 196.3 208.2 217.1 226.0 236.7 248.5 260.4 271.1 280.3 289.5 300.2 311.1 327.2 343.5 355.0" y="589.8" font-size="19.6" text-anchor="middle" xml:space="preserve"><tspan class="s">cz</tspan> = 12.4 <tspan class="pm">±</tspan> <tspan class="s">7.9 km/s</tspan></text>
<text x="140.4 151.9 162.0 174.4 186.9 196.4 207.1 218.9 227.8 236.7 248.6 260.4 272.3 284.1 293.0 300.7 311.7 323.6 335.4 346.4 358.9 371.3 380.8 391.5 403.3 412.2 421.1 433.0 444.8 456.7 468.5" y="620.4" font-size="19.6" text-anchor="middle" xml:space="preserve">RA =  93.75106, DEC =  17.31434</text>
<text x="134.5 141.6 145.3" y="96.3" font-size="14.8" text-anchor="middle" xml:space="preserve" class="m">OII</text>
<text x="134.9 141.9 145.7" y="79.2" font-size="14.8" text-anchor="middle" xml:space="preserve" class="m">OII</text>
<text x="142.3 152.4" y="62.0" font-size="14.8" text-anchor="middle" xml:space="preserve" class="m">Hθ</text>
<text x="147.3 157.1" y="96.3" font-size="14.8" text-anchor="middle" xml:space="preserve" class="m">Hη</text>
<text x="152.4 161.8 167.9" y="79.2" font-size="14.8" text-anchor="middle" xml:space="preserve" class="m">HeI</text>
<text x="164.2" y="62.0" font-size="14.8" text-anchor="middle" xml:space="preserve" class="m">K</text>
<text x="168.6" y="96.3" font-size="14.8" text-anchor="middle" xml:space="preserve" class="m">H</text>
<text x="177.7 184.3 188.0" y="79.2" font-size="14.8" text-anchor="middle" xml:space="preserve" class="m">SII</text>
<text x="181.0 190.4" y="62.0" font-size="14.8" text-anchor="middle" xml:space="preserve" class="m">Hδ</text>
<text x="210.6" y="96.3" font-size="14.8" text-anchor="middle" xml:space="preserve" class="m">G</text>
<text x="210.6 220.3" y="79.2" font-size="14.8" text-anchor="middle" xml:space="preserve" class="m">Hγ</text>
<text x="212.3 219.4 223.1 226.9" y="62.0" font-size="14.8" text-anchor="middle" xml:space="preserve" class="m">OIII</text>
<text x="275.8 285.4" y="96.3" font-size="14.8" text-anchor="middle" xml:space="preserve" class="m">Hβ</text>
<text x="286.8 293.8 297.6 301.4" y="79.2" font-size="14.8" text-anchor="middle" xml:space="preserve" class="m">OIII</text>
<text x="292.8 299.8 303.6 307.4" y="62.0" font-size="14.8" text-anchor="middle" xml:space="preserve" class="m">OIII</text>
<text x="315.0 325.1" y="96.3" font-size="14.8" text-anchor="middle" xml:space="preserve" class="m">Mg</text>
<text x="404.9 414.5" y="79.2" font-size="14.8" text-anchor="middle" xml:space="preserve" class="m">Na</text>
<text x="458.3 465.3" y="62.0" font-size="14.8" text-anchor="middle" xml:space="preserve" class="m">OI</text>
<text x="466.2 473.3" y="96.3" font-size="14.8" text-anchor="middle" xml:space="preserve" class="m">OI</text>
<text x="487.4 494.4 498.2" y="79.2" font-size="14.8" text-anchor="middle" xml:space="preserve" class="m">NII</text>
<text x="488.0 498.1" y="62.0" font-size="14.8" text-anchor="middle" xml:space="preserve" class="m">Hα</text>
<text x="491.8 498.8 502.6" y="96.3" font-size="14.8" text-anchor="middle" xml:space="preserve" class="m">NII</text>
<text x="509.0 514.9" y="79.2" font-size="14.8" text-anchor="middle" xml:space="preserve" class="m">Li</text>
<text x="508.4 515.0 518.8" y="62.0" font-size="14.8" text-anchor="middle" xml:space="preserve" class="m">SII</text>
<text x="510.2 516.8 520.6" y="96.3" font-size="14.8" text-anchor="middle" xml:space="preserve" class="m">SII</text>
<text x="726.7 736.1 742.5 746.2" y="79.2" font-size="14.8" text-anchor="middle" xml:space="preserve" class="m">CaII</text>
<text x="732.2 741.6 748.0 751.7" y="62.0" font-size="14.8" text-anchor="middle" xml:space="preserve" class="m">CaII</text>
<text x="747.2 756.6 763.0 766.7" y="96.3" font-size="14.8" text-anchor="middle" xml:space="preserve" class="m">CaII</text>
<g stroke="#000" shape-rendering="crispEdges"><path d="M252.5 25h19M356.5 25h19M634.5 25h19" stroke-width="2"/><path d="M643 583.5h11.5" stroke-width="1"/></g>
</svg></body></html>
